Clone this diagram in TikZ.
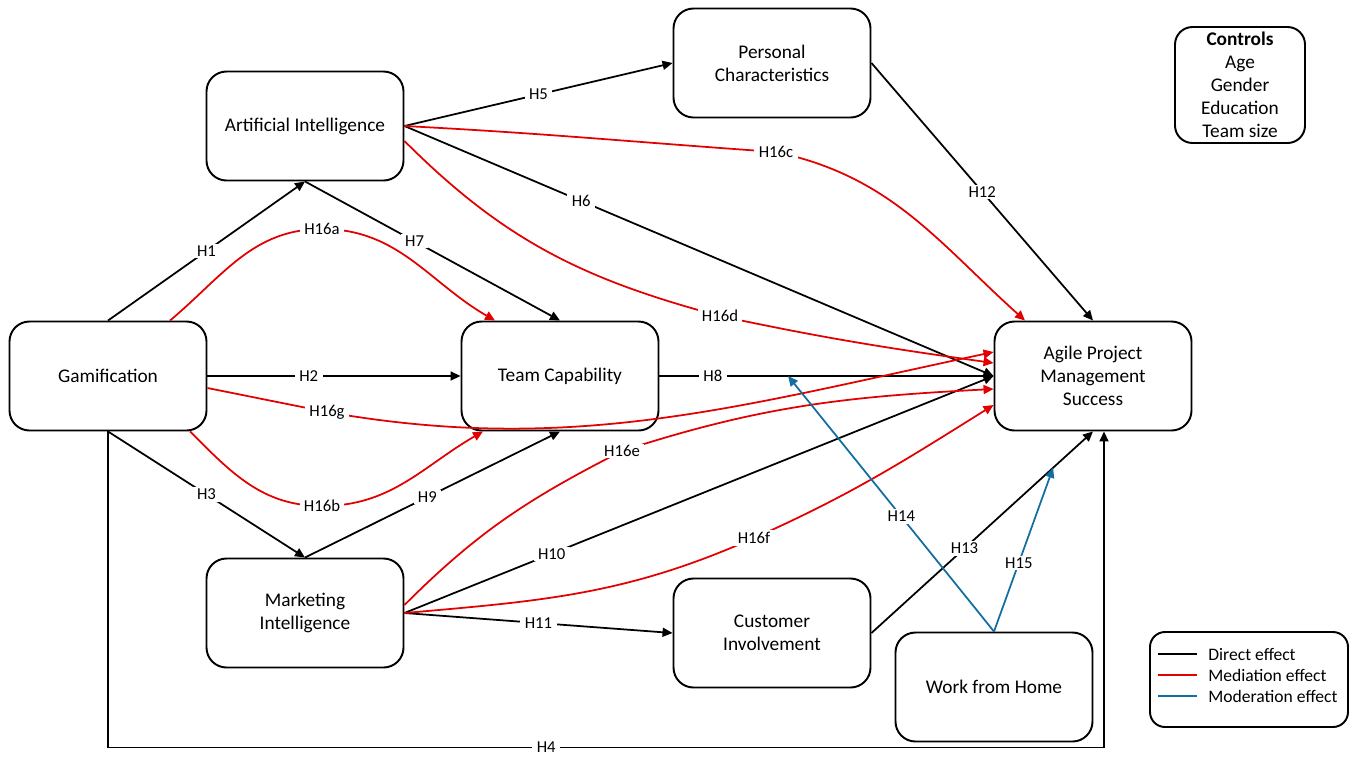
\documentclass[tikz,border=0pt]{standalone}
\usepackage{fontspec}
\setmainfont{Carlito}
\usetikzlibrary{arrows.meta}

\definecolor{medred}{RGB}{226,0,0}
\definecolor{modblue}{RGB}{18,110,160}
\newcommand{\conceptfont}{\fontsize{11}{13.1}\selectfont}
\newcommand{\hypfont}{\fontsize{9.5}{11}\selectfont}
\newcommand{\legfont}{\fontsize{10}{12}\selectfont}

\begin{document}
\begin{tikzpicture}[
    concept/.style={draw, line width=1.1pt, rounded corners=0.4cm,
      minimum width=3.94cm, minimum height=2.18cm, align=center,
      font=\conceptfont},
    direct/.style={line width=1pt, -{Triangle[length=2mm,width=1.8mm]}},
    mediation/.style={direct, draw=medred},
    moderation/.style={direct, draw=modblue},
    lbl/.style={fill=white, text=black, inner xsep=2.5pt, inner ysep=1pt,
      font=\hypfont}
  ]
  \useasboundingbox (0,0) rectangle (27.02,-15.12);

  % Constructs
  \node[concept] (gam) at (2.16,-7.52) {Gamification};
  \node[concept] (ai) at (6.10,-2.52) {Artificial Intelligence};
  \node[concept] (pc) at (15.44,-1.26) {Personal\\Characteristics};
  \node[concept] (tc) at (11.20,-7.52) {Team Capability};
  \node[concept] (apms) at (21.86,-7.52) {Agile Project\\Management\\Success};
  \node[concept] (mi) at (6.10,-12.26) {Marketing\\Intelligence};
  \node[concept] (ci) at (15.44,-12.66) {Customer\\Involvement};
  \node[concept] (wfh) at (19.88,-13.74) {Work from Home};

  % Controls
  \node[draw, line width=1.1pt, rounded corners=0.35cm, minimum width=2.6cm,
    minimum height=2.32cm, inner sep=1pt, align=center, font=\conceptfont]
    (controls)
    at
    (24.80,-1.70)
    {\textbf{Controls}\\Age\\Gender\\Education\\Team size};

  % Direct effects
  \draw[direct] (gam.north) -- node[lbl]{H1} (ai.south);
  \draw[direct] (gam.east) -- node[lbl,pos=0.4]{H2} (tc.west);
  \draw[direct] (gam.south) -- node[lbl]{H3} (mi.north);
  \draw[direct] (gam.south) -- ++(0,-6.32)
    -| node[lbl,pos=0.22]{H4} ([xshift=2.2mm]apms.south);
  \draw[direct] (ai.east) -- node[lbl]{H5} (pc.west);
  \draw[direct] (ai.east) -- node[lbl,pos=0.3]{H6} (apms.west);
  \draw[direct] (ai.south) -- node[lbl,pos=0.43]{H7} (tc.north);
  \draw[direct] (tc.east) -- node[lbl,pos=0.16]{H8}
    coordinate[pos=0.385] (mod1) (apms.west);
  \draw[direct] (mi.north) -- node[lbl,pos=0.48]{H9} (tc.south);
  \draw[direct] (mi.east) -- node[lbl,pos=0.25]{H10} (apms.west);
  \draw[direct] (mi.east) -- node[lbl]{H11} (ci.west);
  \draw[direct] (pc.east) -- node[lbl,pos=0.5]{H12} (apms.north);
  \draw[direct] (ci.east) -- node[lbl,pos=0.42]{H13}
    coordinate[pos=0.82] (mod2) (apms.south);

  % Mediation effects
  \coordinate (l16a) at (6.44,-4.58);
  \coordinate (l16b) at (6.44,-10.12);
  \coordinate (l16c) at (15.52,-3.04);
  \coordinate (l16d) at (14.40,-6.32);
  \coordinate (l16e) at (12.44,-9.02);
  \coordinate (l16f) at (15.08,-10.76);
  \coordinate (l16g) at (6.54,-8.24);

  \draw[mediation] ([xshift=1.24cm]gam.north) to[out=40,in=180] (l16a)
    node[lbl]{H16a} to[out=0,in=150] ([xshift=-1.3cm]tc.north);
  \draw[mediation] ([xshift=1.64cm]gam.south) to[out=-45,in=180] (l16b)
    node[lbl]{H16b} to[out=0,in=-150] ([xshift=-1.54cm]tc.south);
  \draw[mediation] (ai.east) to[out=-3,in=176] (l16c)
    node[lbl]{H16c} to[out=-12,in=138] ([xshift=-1.36cm]apms.north);
  \draw[mediation] ([yshift=-0.3cm]ai.east) to[out=-45,in=165] (l16d)
    node[lbl]{H16d} to[out=-12,in=172] ([yshift=0.26cm]apms.west);
  \draw[mediation] ([yshift=0.16cm]mi.east) to[out=45,in=207] (l16e)
    node[lbl]{H16e} to[out=18,in=183] ([yshift=-0.26cm]apms.west);
  \draw[mediation] (mi.east) to[out=5,in=204] (l16f)
    node[lbl]{H16f} to[out=24,in=212] ([yshift=-0.58cm]apms.west);
  \draw[mediation] ([yshift=-0.24cm]gam.east) -- (l16g)
    node[lbl]{H16g} .. controls +(-10:5) and +(192:5.2) .. ([yshift=0.48cm]apms.west);

  % Moderation effects
  \draw[moderation] (wfh.north) -- node[lbl,pos=0.45]{H14} (mod1);
  \draw[moderation] (wfh.north) -- node[lbl,pos=0.42]{H15} (mod2);

  % Legend
  \node[draw, line width=1.1pt, rounded corners=0.3cm, minimum width=3.96cm,
    minimum height=1.9cm] (legend) at (24.98,-13.59) {};
  \node[anchor=west, inner sep=0pt, font=\legfont] (legdir) at (24.16,-13.08) {Direct effect};
  \node[anchor=west, inner sep=0pt, font=\legfont] (legmed) at (24.16,-13.50) {Mediation effect};
  \node[anchor=west, inner sep=0pt, font=\legfont] (legmod) at (24.16,-13.92) {Moderation effect};
  \draw[line width=1pt] ([xshift=-0.22cm]legdir.west) -- ++(-0.78,0);
  \draw[line width=1pt, medred] ([xshift=-0.22cm]legmed.west) -- ++(-0.78,0);
  \draw[line width=1pt, modblue] ([xshift=-0.22cm]legmod.west) -- ++(-0.78,0);
\end{tikzpicture}
\end{document}
